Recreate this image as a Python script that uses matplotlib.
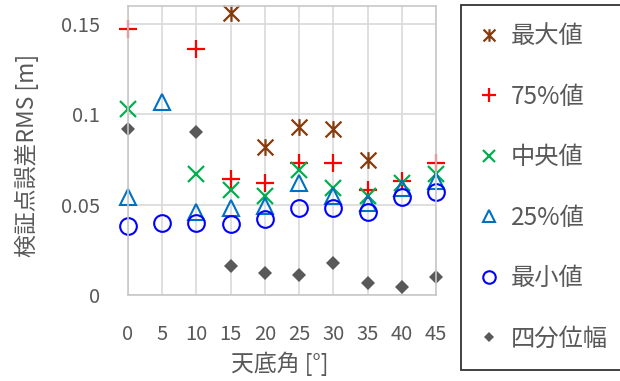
import numpy as np
import matplotlib
matplotlib.use("Agg")
import matplotlib.pyplot as plt
from matplotlib.path import Path
from matplotlib.ticker import FuncFormatter

plt.rcParams["font.family"] = ["Noto Sans CJK JP", "DejaVu Sans"]

# zenith angle [deg]
angles = [0, 5, 10, 15, 20, 25, 30, 35, 40, 45]

# RMS of check-point error [m]; nan = above the plotted range
rms_max = [np.nan, np.nan, np.nan, 0.156, 0.082, 0.093, 0.092, 0.075, np.nan, np.nan]
rms_p75 = [0.147, np.nan, 0.136, 0.064, 0.062, 0.073, 0.073, 0.058, 0.0633, 0.073]
rms_median = [0.103, np.nan, 0.067, 0.058, 0.055, 0.069, 0.059, 0.055, 0.062, 0.067]
rms_p25 = [0.054, 0.107, 0.046, 0.048, 0.049, 0.062, 0.055, 0.051, 0.059, 0.063]
rms_min = [0.038, 0.040, 0.040, 0.0395, 0.042, 0.048, 0.048, 0.046, 0.054, 0.057]
rms_iqr = [0.092, np.nan, 0.090, 0.016, 0.012, 0.011, 0.0175, 0.0065, 0.0045, 0.010]

labels = ["最大値", "75%値", "中央値", "25%値", "最小値", "四分位幅"]

TEXT = "#595959"
W, H = 620, 381

# Excel-style asterisk: an x with a vertical bar through it
STAR = Path([(0, -1), (0, 1), (-0.95, -0.95), (0.95, 0.95), (-0.95, 0.95), (0.95, -0.95)],
            [Path.MOVETO, Path.LINETO] * 3)


def main():
    fig = plt.figure(figsize=(W / 100, H / 100), dpi=100)
    ax = fig.add_axes([128 / W, 1 - 295 / H, 308 / W, 289 / H])

    kw = dict(linestyle="none", clip_on=False)
    ax.plot(angles, rms_max, marker=STAR, ms=12, mew=1.6,
            color="#843C0C", label=labels[0], **kw)
    ax.plot(angles, rms_p75, marker="+", ms=13.5, mew=1.6,
            color="#FF0000", label=labels[1], **kw)
    ax.plot(angles, rms_median, marker="x", ms=11, mew=1.6,
            color="#00B050", label=labels[2], **kw)
    ax.plot(angles, rms_p25, marker="^", ms=12, mew=1.5, mfc="none",
            color="#0070C0", label=labels[3], **kw)
    ax.plot(angles, rms_min, marker="o", ms=12, mew=1.5, mfc="none",
            color="#0000FF", label=labels[4], **kw)
    ax.plot(angles, rms_iqr, marker="D", ms=7.2, mew=0,
            color="#595959", label=labels[5], **kw)

    ax.set_xlim(0, 45)
    ax.set_ylim(0, 0.16)
    ax.set_xticks(angles)
    ax.set_yticks([0, 0.05, 0.1, 0.15])
    ax.yaxis.set_major_formatter(FuncFormatter(lambda v, p: f"{v:g}"))

    ax.grid(True, color="#D9D9D9", linewidth=1.2)
    ax.set_axisbelow(True)
    for s in ax.spines.values():
        s.set_color("#C8C8C8")
        s.set_linewidth(1.2)
    ax.tick_params(length=0, labelsize=14.5, colors=TEXT)
    ax.tick_params(axis="x", pad=21)
    ax.tick_params(axis="y", pad=20)

    fig.text(27 / W, 1 - 155 / H, "検証点誤差RMS [m]", rotation=90,
             ha="center", va="center", fontsize=16.5, color=TEXT)
    fig.text(280 / W, 1 - 364 / H, "天底角 [°]",
             ha="center", va="center", fontsize=16.5, color=TEXT)

    leg = fig.legend(loc="upper left", bbox_to_anchor=(461 / W, 1 - 5 / H),
                     fontsize=17.5, frameon=True, fancybox=False,
                     edgecolor="black", labelspacing=1.42, handlelength=0.8,
                     handletextpad=0.5, borderpad=0.75, borderaxespad=0,
                     markerscale=0.75)
    leg.get_frame().set_linewidth(1.3)
    for t in leg.get_texts():
        t.set_color(TEXT)

    fig.savefig("out.png", dpi=100)


if __name__ == "__main__":
    main()
